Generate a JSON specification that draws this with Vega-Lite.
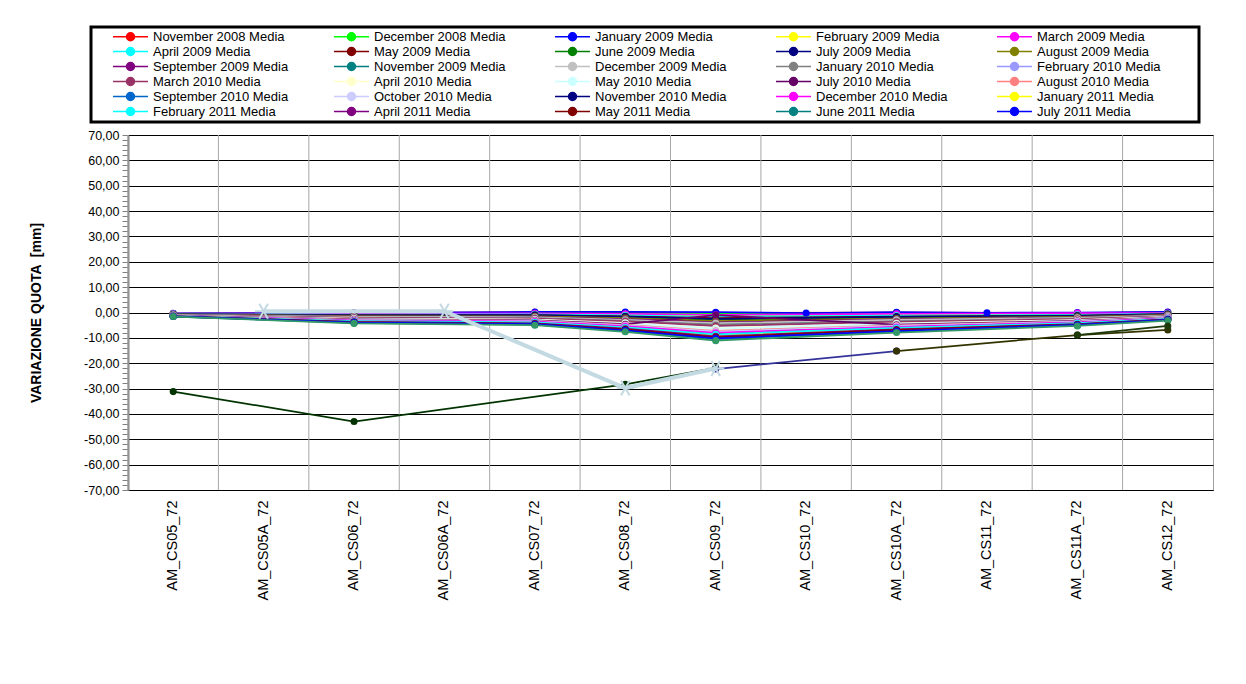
{
  "$schema": "https://vega.github.io/schema/vega-lite/v6.json",
  "width": 1085,
  "height": 355,
  "autosize": {"type": "none"},
  "padding": {"left": 128, "top": 135, "right": 33, "bottom": 194},
  "background": "white",
  "config": {
    "view": {"stroke": "#A0A0A0", "strokeWidth": 1},
    "font": "Liberation Sans",
    "legend": {"strokeWidth": 3}
  },
  "datasets": {
    "cats": [
      {"c": "AM_CS05_72"}, {"c": "AM_CS05A_72"}, {"c": "AM_CS06_72"}, {"c": "AM_CS06A_72"},
      {"c": "AM_CS07_72"}, {"c": "AM_CS08_72"}, {"c": "AM_CS09_72"}, {"c": "AM_CS10_72"},
      {"c": "AM_CS10A_72"}, {"c": "AM_CS11_72"}, {"c": "AM_CS11A_72"}, {"c": "AM_CS12_72"}
    ],
    "series": [
      {"s": "November 2008 Media", "AM_CS05_72": -0.4, "AM_CS06_72": -0.2, "AM_CS07_72": 0.1, "AM_CS08_72": 0.0, "AM_CS09_72": -0.2, "AM_CS10A_72": 0.0, "AM_CS11A_72": -0.2, "AM_CS12_72": 0.1},
      {"s": "December 2008 Media", "AM_CS05_72": -0.5, "AM_CS06_72": -0.4, "AM_CS07_72": -0.2, "AM_CS08_72": -0.3, "AM_CS09_72": -0.5, "AM_CS10A_72": -0.3, "AM_CS11A_72": -0.3, "AM_CS12_72": 0.0},
      {"s": "January 2009 Media", "AM_CS05_72": -0.3, "AM_CS06_72": -0.1, "AM_CS07_72": 0.2, "AM_CS08_72": 0.2, "AM_CS09_72": 0.1, "AM_CS10_72": -0.2, "AM_CS10A_72": 0.1, "AM_CS11_72": -0.1, "AM_CS11A_72": 0.0, "AM_CS12_72": 0.2},
      {"s": "February 2009 Media", "AM_CS05_72": -0.6, "AM_CS06_72": -0.6, "AM_CS07_72": -0.5, "AM_CS08_72": -0.8, "AM_CS09_72": -1.3, "AM_CS10A_72": -0.9, "AM_CS11A_72": -0.7, "AM_CS12_72": -0.3},
      {"s": "March 2009 Media", "AM_CS05_72": -0.5, "AM_CS06_72": -0.4, "AM_CS07_72": -0.3, "AM_CS08_72": -0.5, "AM_CS09_72": -0.9, "AM_CS10A_72": -0.5, "AM_CS11A_72": -0.2, "AM_CS12_72": -0.2},
      {"s": "April 2009 Media", "AM_CS05_72": -0.6, "AM_CS06_72": -0.8, "AM_CS07_72": -0.7, "AM_CS08_72": -1.1, "AM_CS09_72": -1.7, "AM_CS10A_72": -1.2, "AM_CS11A_72": -0.9, "AM_CS12_72": -0.4},
      {"s": "May 2009 Media", "AM_CS05_72": -0.7, "AM_CS06_72": -1.0, "AM_CS07_72": -1.0, "AM_CS08_72": -1.5, "AM_CS09_72": -2.2, "AM_CS10A_72": -1.6, "AM_CS11A_72": -1.2, "AM_CS12_72": -0.6},
      {"s": "June 2009 Media", "AM_CS05_72": -0.8, "AM_CS06_72": -1.2, "AM_CS07_72": -1.3, "AM_CS08_72": -1.9, "AM_CS09_72": -2.8, "AM_CS10A_72": -1.9, "AM_CS11A_72": -1.4, "AM_CS12_72": -0.8},
      {"s": "July 2009 Media", "AM_CS05_72": -0.7, "AM_CS06_72": -1.1, "AM_CS07_72": -1.0, "AM_CS08_72": -1.6, "AM_CS09_72": -2.5, "AM_CS10A_72": -1.7, "AM_CS11A_72": -1.3, "AM_CS12_72": -0.6},
      {"s": "August 2009 Media", "AM_CS05_72": -0.8, "AM_CS06_72": -1.4, "AM_CS07_72": -1.5, "AM_CS08_72": -2.2, "AM_CS09_72": -3.4, "AM_CS10A_72": -2.4, "AM_CS11A_72": -1.7, "AM_CS12_72": -0.9},
      {"s": "September 2009 Media", "AM_CS05_72": -0.9, "AM_CS06_72": -1.6, "AM_CS07_72": -1.8, "AM_CS08_72": -2.6, "AM_CS09_72": -3.9, "AM_CS10A_72": -2.7, "AM_CS11A_72": -2.0, "AM_CS12_72": -1.1},
      {"s": "November 2009 Media", "AM_CS05_72": -0.9, "AM_CS06_72": -1.8, "AM_CS07_72": -2.0, "AM_CS08_72": -3.0, "AM_CS09_72": -4.5, "AM_CS10A_72": -3.1, "AM_CS11A_72": -2.2, "AM_CS12_72": -1.3},
      {"s": "December 2009 Media", "AM_CS05_72": -1.0, "AM_CS06_72": -1.7, "AM_CS07_72": -1.9, "AM_CS08_72": -2.9, "AM_CS09_72": -4.2, "AM_CS10A_72": -2.9, "AM_CS11A_72": -2.1, "AM_CS12_72": -1.2},
      {"s": "January 2010 Media", "AM_CS05_72": -1.0, "AM_CS06_72": -2.0, "AM_CS07_72": -2.2, "AM_CS08_72": -3.3, "AM_CS09_72": -4.9, "AM_CS10A_72": -3.5, "AM_CS11A_72": -2.5, "AM_CS12_72": -1.4},
      {"s": "February 2010 Media", "AM_CS05_72": -1.1, "AM_CS06_72": -2.2, "AM_CS07_72": -2.5, "AM_CS08_72": -3.7, "AM_CS09_72": -5.5, "AM_CS10A_72": -3.9, "AM_CS11A_72": -2.8, "AM_CS12_72": -1.6},
      {"s": "March 2010 Media", "AM_CS05_72": -1.0, "AM_CS06_72": -2.1, "AM_CS07_72": -2.4, "AM_CS08_72": -3.5, "AM_CS09_72": -5.3, "AM_CS10A_72": -3.7, "AM_CS11A_72": -2.6, "AM_CS12_72": -1.5},
      {"s": "April 2010 Media", "AM_CS05_72": -1.1, "AM_CS06_72": -2.4, "AM_CS07_72": -2.8, "AM_CS08_72": -4.1, "AM_CS09_72": -6.1, "AM_CS10A_72": -4.3, "AM_CS11A_72": -3.0, "AM_CS12_72": -1.7},
      {"s": "May 2010 Media", "AM_CS05_72": -1.2, "AM_CS06_72": -2.6, "AM_CS07_72": -2.9, "AM_CS08_72": -4.3, "AM_CS09_72": -6.4, "AM_CS10A_72": -4.5, "AM_CS11A_72": -3.1, "AM_CS12_72": -1.8},
      {"s": "July 2010 Media", "AM_CS05_72": -1.2, "AM_CS06_72": -2.7, "AM_CS07_72": -3.1, "AM_CS08_72": -4.6, "AM_CS09_72": -1.0, "AM_CS10A_72": -4.8, "AM_CS11A_72": -3.3, "AM_CS12_72": -1.9},
      {"s": "August 2010 Media", "AM_CS05_72": -1.2, "AM_CS06_72": -2.9, "AM_CS07_72": -3.3, "AM_CS08_72": -4.9, "AM_CS09_72": -7.2, "AM_CS10A_72": -5.1, "AM_CS11A_72": -3.5, "AM_CS12_72": -2.1},
      {"s": "September 2010 Media", "AM_CS05_72": -1.3, "AM_CS06_72": -3.1, "AM_CS07_72": -3.5, "AM_CS08_72": -5.3, "AM_CS09_72": -7.7, "AM_CS10A_72": -5.5, "AM_CS11A_72": -3.8, "AM_CS12_72": -2.2},
      {"s": "October 2010 Media", "AM_CS05_72": -1.3, "AM_CS06_72": -3.0, "AM_CS07_72": -3.4, "AM_CS08_72": -5.1, "AM_CS09_72": -7.5, "AM_CS10A_72": -5.3, "AM_CS11A_72": -3.6, "AM_CS12_72": -2.1},
      {"s": "November 2010 Media", "AM_CS05_72": -1.3, "AM_CS06_72": -3.3, "AM_CS07_72": -3.8, "AM_CS08_72": -5.7, "AM_CS09_72": -8.3, "AM_CS10A_72": -5.9, "AM_CS11A_72": -4.0, "AM_CS12_72": -2.4},
      {"s": "December 2010 Media", "AM_CS05_72": -1.3, "AM_CS06_72": -3.2, "AM_CS07_72": -3.6, "AM_CS08_72": -5.4, "AM_CS09_72": -8.0, "AM_CS10A_72": -5.7, "AM_CS11A_72": -3.9, "AM_CS12_72": -2.3},
      {"s": "January 2011 Media", "AM_CS05_72": -1.4, "AM_CS06_72": -3.5, "AM_CS07_72": -4.0, "AM_CS08_72": -6.0, "AM_CS09_72": -8.9, "AM_CS10A_72": -6.3, "AM_CS11A_72": -4.3, "AM_CS12_72": -2.6},
      {"s": "February 2011 Media", "AM_CS05_72": -1.4, "AM_CS06_72": -3.4, "AM_CS07_72": -3.9, "AM_CS08_72": -5.9, "AM_CS09_72": -8.6, "AM_CS10A_72": -6.1, "AM_CS11A_72": -4.2, "AM_CS12_72": -2.5},
      {"s": "April 2011 Media", "AM_CS05_72": -1.5, "AM_CS06_72": -3.7, "AM_CS07_72": -4.3, "AM_CS08_72": -6.4, "AM_CS09_72": -9.4, "AM_CS10A_72": -6.7, "AM_CS11A_72": -4.6, "AM_CS12_72": -2.7},
      {"s": "May 2011 Media", "AM_CS05_72": -1.5, "AM_CS06_72": -3.8, "AM_CS07_72": -4.5, "AM_CS08_72": -6.7, "AM_CS09_72": -9.8, "AM_CS10A_72": -6.9, "AM_CS11A_72": -4.7, "AM_CS12_72": -2.8},
      {"s": "June 2011 Media", "AM_CS05_72": -1.6, "AM_CS06_72": -4.1, "AM_CS07_72": -4.8, "AM_CS08_72": -7.2, "AM_CS09_72": -10.5, "AM_CS10A_72": -7.5, "AM_CS11A_72": -5.0, "AM_CS12_72": -3.0},
      {"s": "July 2011 Media", "AM_CS05_72": -1.5, "AM_CS06_72": -4.0, "AM_CS07_72": -4.6, "AM_CS08_72": -7.0, "AM_CS09_72": -10.2, "AM_CS10A_72": -7.3, "AM_CS11A_72": -4.9, "AM_CS12_72": -2.9},
      {"s": "Serie 31", "AM_CS05_72": -1.6, "AM_CS06_72": -4.3, "AM_CS07_72": -5.0, "AM_CS08_72": -7.6, "AM_CS09_72": -11.1, "AM_CS10A_72": -7.9, "AM_CS11A_72": -5.3, "AM_CS12_72": -3.2},
      {"s": "Serie 32", "AM_CS05_72": -31.2, "AM_CS06_72": -43.0, "AM_CS08_72": -28.3, "AM_CS09_72": -21.8},
      {"s": "Serie 33", "AM_CS09_72": -22.3, "AM_CS10A_72": -15.2},
      {"s": "Serie 34", "AM_CS10A_72": -15.2, "AM_CS11A_72": -8.9, "AM_CS12_72": -6.9},
      {"s": "Serie 35", "AM_CS11A_72": -8.9, "AM_CS12_72": -5.3}
    ],
    "thick": [
      {"c": "AM_CS05A_72", "v": 0.5},
      {"c": "AM_CS06A_72", "v": 0.5},
      {"c": "AM_CS08_72", "v": -29.8},
      {"c": "AM_CS09_72", "v": -22.1}
    ]
  },
  "layer": [
    {
      "data": {"name": "cats"},
      "mark": {"type": "rule", "color": "#A6A6A6", "strokeWidth": 1},
      "encoding": {
        "x": {
          "field": "c", "type": "nominal", "bandPosition": 0,
          "sort": ["AM_CS05_72", "AM_CS05A_72", "AM_CS06_72", "AM_CS06A_72", "AM_CS07_72", "AM_CS08_72", "AM_CS09_72", "AM_CS10_72", "AM_CS10A_72", "AM_CS11_72", "AM_CS11A_72", "AM_CS12_72"],
          "scale": {"type": "band", "paddingInner": 0, "paddingOuter": 0, "domain": ["AM_CS05_72", "AM_CS05A_72", "AM_CS06_72", "AM_CS06A_72", "AM_CS07_72", "AM_CS08_72", "AM_CS09_72", "AM_CS10_72", "AM_CS10A_72", "AM_CS11_72", "AM_CS11A_72", "AM_CS12_72"]},
          "axis": {"title": null, "labelAngle": 270, "labelFontSize": 14.5, "labelFont": "Liberation Sans", "labelColor": "black", "ticks": false, "labelPadding": 10, "domainColor": "black", "domainWidth": 1, "grid": false, "labelLimit": 200}
        }
      }
    },
    {
      "data": {"name": "series"},
      "transform": [
        {"fold": ["AM_CS05_72", "AM_CS05A_72", "AM_CS06_72", "AM_CS06A_72", "AM_CS07_72", "AM_CS08_72", "AM_CS09_72", "AM_CS10_72", "AM_CS10A_72", "AM_CS11_72", "AM_CS11A_72", "AM_CS12_72"], "as": ["c", "v"]},
        {"filter": "isValid(datum.v)"}
      ],
      "mark": {"type": "line", "strokeWidth": 1.75, "point": {"filled": true, "size": 50}},
      "encoding": {
        "x": {
          "field": "c", "type": "nominal",
          "sort": ["AM_CS05_72", "AM_CS05A_72", "AM_CS06_72", "AM_CS06A_72", "AM_CS07_72", "AM_CS08_72", "AM_CS09_72", "AM_CS10_72", "AM_CS10A_72", "AM_CS11_72", "AM_CS11A_72", "AM_CS12_72"],
          "scale": {"type": "band", "paddingInner": 0, "paddingOuter": 0, "domain": ["AM_CS05_72", "AM_CS05A_72", "AM_CS06_72", "AM_CS06A_72", "AM_CS07_72", "AM_CS08_72", "AM_CS09_72", "AM_CS10_72", "AM_CS10A_72", "AM_CS11_72", "AM_CS11A_72", "AM_CS12_72"]},
          "axis": {"title": null, "labelAngle": 270, "labelFontSize": 14.5, "labelFont": "Liberation Sans", "labelColor": "black", "ticks": false, "labelPadding": 10, "domainColor": "black", "domainWidth": 1, "grid": false, "labelLimit": 200}
        },
        "y": {
          "field": "v", "type": "quantitative",
          "scale": {"domain": [-70, 70], "nice": false, "zero": false},
          "axis": {
            "title": "VARIAZIONE QUOTA \u00a0[mm]", "titleFontWeight": "bold", "titleFontSize": 14, "titleFont": "Liberation Sans", "titleColor": "black", "titlePadding": 40,
            "values": [-70,-68,-66,-64,-62,-60,-58,-56,-54,-52,-50,-48,-46,-44,-42,-40,-38,-36,-34,-32,-30,-28,-26,-24,-22,-20,-18,-16,-14,-12,-10,-8,-6,-4,-2,0,2,4,6,8,10,12,14,16,18,20,22,24,26,28,30,32,34,36,38,40,42,44,46,48,50,52,54,56,58,60,62,64,66,68,70],
            "tickCount": 200,
            "labelExpr": "datum.value % 10 === 0 ? replace(replace(format(datum.value, '.2f'), '.', ','), '\u2212', '-') : ''",
            "labelFontSize": 12.5, "labelFont": "Liberation Sans", "labelColor": "black", "labelPadding": 3, "labelOverlap": false, "labelFlush": false,
            "tickSize": 6,
            "tickColor": "#808080",
            "domainColor": "#808080", "domainWidth": 2,
            "grid": true, "gridColor": "black", "gridWidth": 1,
            "gridOpacity": {"condition": {"test": "datum.value % 10 === 0", "value": 1}, "value": 0},
            "encode": {"ticks": {"update": {"x2": {"signal": "datum.value % 10 === 0 ? -6 : -3"}}}}
          }
        },
        "color": {
          "field": "s", "type": "nominal",
          "scale": {
            "domain": ["November 2008 Media","December 2008 Media","January 2009 Media","February 2009 Media","March 2009 Media","April 2009 Media","May 2009 Media","June 2009 Media","July 2009 Media","August 2009 Media","September 2009 Media","November 2009 Media","December 2009 Media","January 2010 Media","February 2010 Media","March 2010 Media","April 2010 Media","May 2010 Media","July 2010 Media","August 2010 Media","September 2010 Media","October 2010 Media","November 2010 Media","December 2010 Media","January 2011 Media","February 2011 Media","April 2011 Media","May 2011 Media","June 2011 Media","July 2011 Media","Serie 31","Serie 32","Serie 33","Serie 34","Serie 35"],
            "range": ["#FF0000","#00FF00","#0000FF","#FFFF00","#FF00FF","#00FFFF","#800000","#008000","#000080","#808000","#800080","#008080","#C0C0C0","#808080","#9999FF","#993366","#FFFFCC","#CCFFFF","#660066","#FF8080","#0066CC","#CCCCFF","#000080","#FF00FF","#FFFF00","#00FFFF","#800080","#800000","#008080","#0000FF","#339966","#003300","#333399","#333300","#1E3A0A"]
          },
          "legend": {
            "title": null,
            "values": ["November 2008 Media","December 2008 Media","January 2009 Media","February 2009 Media","March 2009 Media","April 2009 Media","May 2009 Media","June 2009 Media","July 2009 Media","August 2009 Media","September 2009 Media","November 2009 Media","December 2009 Media","January 2010 Media","February 2010 Media","March 2010 Media","April 2010 Media","May 2010 Media","July 2010 Media","August 2010 Media","September 2010 Media","October 2010 Media","November 2010 Media","December 2010 Media","January 2011 Media","February 2011 Media","April 2011 Media","May 2011 Media","June 2011 Media","July 2011 Media"],
            "orient": "none", "legendX": -37, "legendY": -108, "direction": "horizontal",
            "columns": 5, "gridAlign": "all", "columnPadding": 0, "rowPadding": 0,
            "padding": 3, "strokeColor": "black", "fillColor": "white",
            "symbolType": "M-8.11,0M-3.89,0L3.89,0M-0.89,0A0.89,0.89,0,1,1,0.89,0A0.89,0.89,0,1,1,-0.89,0ZM39.6,0",
            "symbolSize": 81, "symbolStrokeWidth": 1.5, "symbolOffset": 30,
            "labelFont": "Liberation Sans", "labelFontSize": 13, "labelColor": "black", "labelOffset": 16, "labelLimit": 300,
            "encode": {"symbols": {"update": {"fill": {"scale": "color", "field": "value"}, "stroke": {"scale": "color", "field": "value"}, "opacity": {"value": 1}}}}
          }
        }
      }
    },
    {
      "data": {"name": "thick"},
      "mark": {"type": "line", "color": "#C4DAE3", "strokeWidth": 4, "point": {"shape": "M-1,0L1,0M-0.5,-0.866L0.5,0.866M-0.5,0.866L0.5,-0.866", "filled": false, "size": 300, "strokeWidth": 2, "color": "#C4DAE3"}},
      "encoding": {
        "x": {
          "field": "c", "type": "nominal",
          "sort": ["AM_CS05_72", "AM_CS05A_72", "AM_CS06_72", "AM_CS06A_72", "AM_CS07_72", "AM_CS08_72", "AM_CS09_72", "AM_CS10_72", "AM_CS10A_72", "AM_CS11_72", "AM_CS11A_72", "AM_CS12_72"],
          "scale": {"type": "band", "paddingInner": 0, "paddingOuter": 0, "domain": ["AM_CS05_72", "AM_CS05A_72", "AM_CS06_72", "AM_CS06A_72", "AM_CS07_72", "AM_CS08_72", "AM_CS09_72", "AM_CS10_72", "AM_CS10A_72", "AM_CS11_72", "AM_CS11A_72", "AM_CS12_72"]},
          "axis": {"title": null, "labelAngle": 270, "labelFontSize": 14.5, "labelFont": "Liberation Sans", "labelColor": "black", "ticks": false, "labelPadding": 10, "domainColor": "black", "domainWidth": 1, "grid": false, "labelLimit": 200}
        },
        "y": {
          "field": "v", "type": "quantitative",
          "scale": {"domain": [-70, 70], "nice": false, "zero": false}
        }
      }
    }
  ]
}
